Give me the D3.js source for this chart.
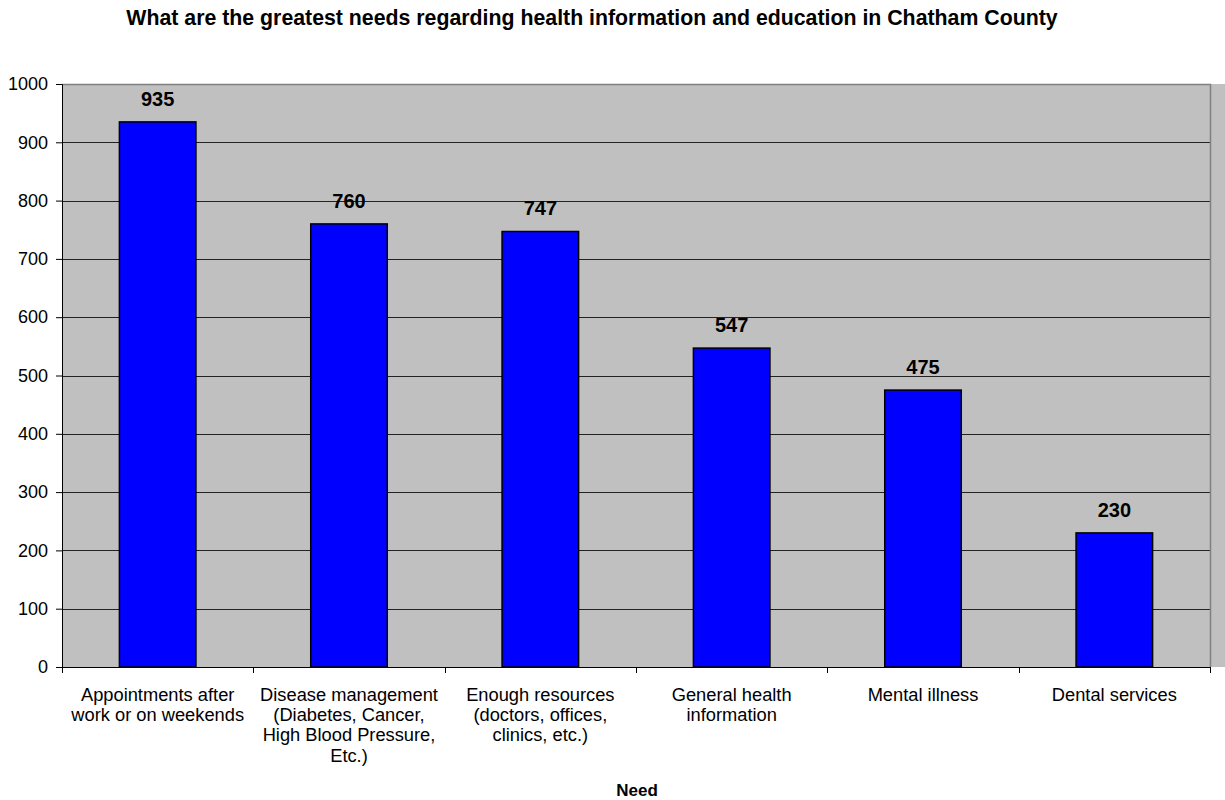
<!DOCTYPE html>
<html>
<head>
<meta charset="utf-8">
<script src="https://cdn.jsdelivr.net/npm/d3@7"></script>
<style>
  body { margin: 0; background: #fff; }
  text { font-family: Arial, "Liberation Sans", sans-serif; }
</style>
</head>
<body>
<svg id="chart" width="1225" height="800"></svg>
<script>
// Survey responses: greatest needs for health information and education
const categories = [
  ["Appointments after", "work or on weekends"],
  ["Disease management", "(Diabetes, Cancer,", "High Blood Pressure,", "Etc.)"],
  ["Enough resources", "(doctors, offices,", "clinics, etc.)"],
  ["General health", "information"],
  ["Mental illness"],
  ["Dental services"]
];
const values = [935, 760, 747, 547, 475, 230];
const yTicks = [0, 100, 200, 300, 400, 500, 600, 700, 800, 900, 1000];

const svg = d3.select("#chart");
const m = { left: 62, right: 1210, top: 84, bottom: 667 };

const x = d3.scaleBand().domain(d3.range(values.length)).range([m.left, m.right]).padding(0);
const y = d3.scaleLinear().domain([0, 1000]).range([m.bottom, m.top]);

// Plot background and side strip
svg.append("rect").attr("x", m.left).attr("y", m.top)
  .attr("width", m.right - m.left).attr("height", m.bottom - m.top).attr("fill", "#c0c0c0");
svg.append("rect").attr("x", m.right + 1).attr("y", m.top)
  .attr("width", 1225 - m.right - 1).attr("height", m.bottom - m.top).attr("fill", "#c0c0c0");

// Gridlines
svg.append("g").selectAll("line").data(yTicks.filter(d => d > 0 && d < 1000)).join("line")
  .attr("x1", m.left).attr("x2", m.right)
  .attr("y1", d => Math.round(y(d)) + 0.5).attr("y2", d => Math.round(y(d)) + 0.5)
  .attr("stroke", "#222").attr("stroke-width", 1);

// Plot frame (top and right)
svg.append("path")
  .attr("d", `M${m.left},${m.top + 0.5}H${m.right + 0.5}V${m.bottom}`)
  .attr("fill", "none").attr("stroke", "#808080").attr("stroke-width", 1.5);

// Bars
const barW = x.bandwidth() * 0.4;
svg.append("g").selectAll("rect").data(values).join("rect")
  .attr("x", (d, i) => x(i) + (x.bandwidth() - barW) / 2)
  .attr("y", d => y(d))
  .attr("width", barW)
  .attr("height", d => y(0) - y(d))
  .attr("fill", "#0000ff").attr("stroke", "#000").attr("stroke-width", 1.5);

// Value labels
svg.append("g").selectAll("text").data(values).join("text")
  .attr("x", (d, i) => x(i) + x.bandwidth() / 2)
  .attr("y", d => y(d) - 16)
  .attr("text-anchor", "middle").attr("font-weight", "bold").attr("font-size", 20)
  .text(d => d);

// Y axis
const yAxis = svg.append("g").attr("transform", `translate(${m.left},0)`)
  .call(d3.axisLeft(y).tickValues(yTicks).tickSize(6).tickPadding(8).tickFormat(d3.format("d")));
yAxis.select(".domain").attr("stroke", "#000");
yAxis.selectAll("text").attr("font-size", 18).attr("fill", "#000")
  .style("font-family", "Arial, 'Liberation Sans', sans-serif");

// X axis with ticks at category boundaries
const xg = svg.append("g");
xg.append("line").attr("x1", m.left).attr("x2", m.right + 1)
  .attr("y1", m.bottom + 0.5).attr("y2", m.bottom + 0.5).attr("stroke", "#000");
xg.selectAll("line.tick").data(d3.range(values.length + 1)).join("line").attr("class", "tick")
  .attr("x1", i => Math.round(i < values.length ? x(i) : m.right) + 0.5)
  .attr("x2", i => Math.round(i < values.length ? x(i) : m.right) + 0.5)
  .attr("y1", m.bottom).attr("y2", m.bottom + 6).attr("stroke", "#000");

// Category labels
const cl = svg.append("g").selectAll("text").data(categories).join("text")
  .attr("x", (d, i) => x(i) + x.bandwidth() / 2)
  .attr("y", 701)
  .attr("text-anchor", "middle").attr("font-size", 18.3);
cl.selectAll("tspan").data(d => d).join("tspan")
  .attr("x", function () { return this.parentNode.getAttribute("x"); })
  .attr("dy", (d, j) => j === 0 ? 0 : 20.2)
  .text(d => d);

// Title
svg.append("text").attr("x", 592).attr("y", 25)
  .attr("text-anchor", "middle").attr("font-weight", "bold").attr("font-size", 21.3)
  .text("What are the greatest needs regarding health information and education in Chatham County");

// Axis title
svg.append("text").attr("x", 637).attr("y", 796)
  .attr("text-anchor", "middle").attr("font-weight", "bold").attr("font-size", 17)
  .text("Need");
</script>
</body>
</html>
